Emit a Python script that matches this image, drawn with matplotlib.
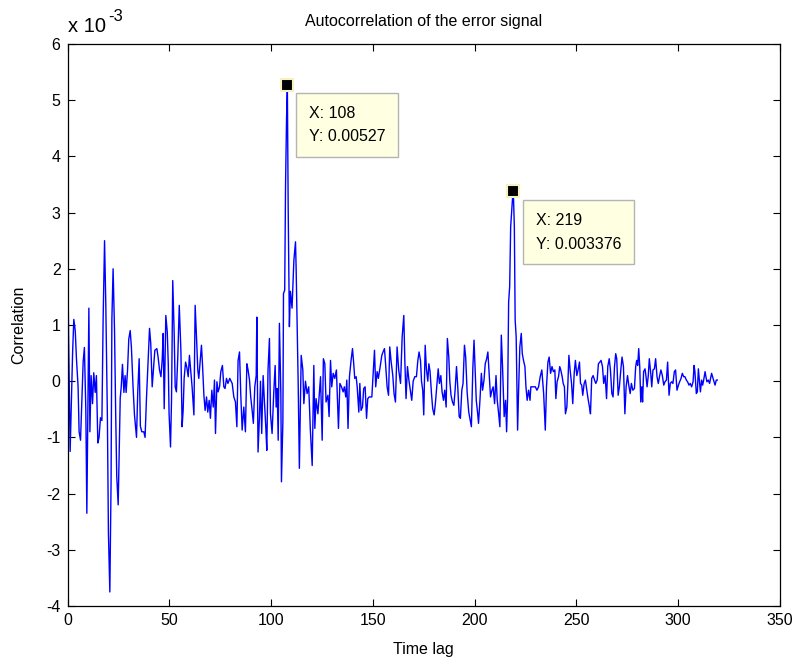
import numpy as np
import matplotlib
matplotlib.use("Agg")
import matplotlib.pyplot as plt

plt.rcParams['font.family'] = ['Liberation Sans', 'DejaVu Sans']
plt.rcParams['axes.unicode_minus'] = False

# Autocorrelation of the error signal.
# Values in units of 1e-3; lags are the time lags of the plotted vertices.
lag_a = [0.0, 0.5, 1.3, 2.5, 3.1, 3.8, 4.4, 5.2, 5.7, 6.4, 6.9, 7.7, 8.3, 9.0, 9.5,
         10.5, 11.0, 11.6, 12.3, 12.9, 13.6, 14.2, 14.9, 15.5, 16.2, 16.9, 17.5,
         18.2, 18.8, 19.6, 20.1, 20.8, 21.4, 21.8, 22.4, 23.1, 23.7, 24.2, 24.9,
         25.4, 25.9, 26.4, 27.0, 27.7, 28.3, 28.8, 29.5, 30.1, 30.8, 31.4, 32.2,
         32.9, 33.9, 34.5, 35.2, 35.8, 36.5, 37.5, 38.1, 38.8]
val_a = [2.95, 0.9, -1.25, 0.5, 1.1, 0.9, 0.4, -0.1, -0.9, -1.05, -0.5, 0.35, 0.6, -0.5, -2.35,
         1.3, -0.9, 0.1, -0.4, 0.15, -0.2, 0.1, -1.1, -1.0, -0.65, -0.7, 1.1,
         2.5, 1.4, -0.65, -2.7, -3.75, -1.8, 1.1, 2.0, 0.9, -0.65, -1.7, -2.2,
         -1.2, -0.3, -0.1, 0.3, -0.2, 0.1, -0.2, 0.2, 0.75, 0.9, 0.6, -0.1,
         -0.6, -1.0, -0.2, 0.4, -0.8, -0.9, -0.9, -1.0, -0.3]

lag_b = [40.3, 40.9, 41.6, 42.3, 42.9, 43.9, 44.5, 45.2, 45.9, 46.5, 47.0, 47.5, 48.3,
         49.0, 49.5, 49.9, 50.6, 51.1, 51.7, 52.4, 52.9, 53.5, 54.2, 54.9, 55.7,
         56.3, 56.8, 57.3, 58.0, 58.6, 59.3, 59.9, 60.6, 61.2, 62.1, 62.7, 63.4,
         64.0, 64.5, 65.2, 65.8, 66.3, 67.0, 67.6, 68.3, 68.9, 69.6, 70.2, 70.9,
         71.6, 72.2, 72.7, 73.4, 74.0, 74.7, 75.3, 76.1, 76.8, 77.4, 78.1, 78.8,
         79.7, 80.9]
val_b = [0.94, 0.67, -0.1, 0.25, 0.55, 0.58, 0.43, 0.2, 0.08, 0.37, 0.85, -0.49, 1.17,
         0.88, 0.31, -0.58, -1.17, -0.34, 1.79, 0.85, -0.1, -0.19, 0.46, 1.35, 0.55,
         -0.81, -0.52, 0.05, 0.34, 0.25, 0.08, 0.46, 0.17, -0.1, -0.6, 1.35, 0.76,
         0.2, 0.05, 0.37, 0.64, 0.31, -0.25, -0.52, -0.28, -0.55, -0.34, -0.66, -0.16,
         -0.46, 0.02, -0.93, -0.01, -0.19, -0.1, 0.17, 0.28, -0.1, -0.13, 0.05, -0.04,
         0.05, -0.04]

lag_c = [81.7, 82.5, 83.2, 83.8, 84.5, 85.1, 85.8, 86.6, 87.4, 88.1, 88.7, 89.4, 90.0,
         90.7, 91.3, 92.0, 92.7, 93.0, 93.6, 94.3, 94.8, 95.4, 96.1, 96.7, 97.4,
         97.9, 98.5, 99.2, 99.7, 100.5, 101.3, 102.0, 102.5, 103.0, 103.5, 104.1,
         104.8, 105.1, 105.8, 106.1, 106.7, 107.1, 107.6, 108.0, 108.4, 109.0,
         109.5, 110.3, 111.2, 112.0, 112.3, 113.3, 113.9, 114.8, 115.6, 116.1,
         116.9, 117.7, 118.5, 119.3, 120.2, 121.0]
val_c = [-0.28, -0.37, -0.81, 0.37, 0.52, -0.22, -0.87, -0.46, -0.9, 0.31, 0.2, 0.02, -0.28,
         -0.52, -0.75, -0.1, 0.1, 1.14, -1.26, -0.63, 0.0, -0.93, 0.1, -0.34, -0.81,
         -1.23, 0.2, 0.76, -0.58, -0.93, -0.22, 0.28, -0.46, -0.13, -1.05, 1.03,
         -0.22, -1.79, -0.72, 1.56, 1.62, 3.46, 4.67, 5.27, 3.1, 0.97,
         1.6, 1.3, 2.15, 2.48, 2.03, 0.0, -1.55, 0.46, 0.2, -0.4,
         0.0, -0.22, -0.1, -0.87, -1.5, 0.28]

lag_d = [121.5, 122.1, 123.0, 123.8, 124.3, 125.1, 125.7, 126.4, 127.0, 127.9, 128.5,
         129.2, 129.8, 130.5, 131.3, 132.1, 132.6, 133.1, 133.8, 134.6, 135.4, 136.0,
         136.7, 137.2, 137.8, 138.5, 139.3, 140.0, 140.6, 141.1, 141.8, 142.3, 143.1,
         143.6, 144.2, 144.9, 145.5, 146.2, 146.9, 147.5, 148.2, 148.8, 149.5, 150.1,
         150.8, 151.4, 152.1, 152.7, 153.6, 154.4, 155.0, 155.7, 156.3, 157.0, 157.7,
         158.3, 159.0, 159.8, 160.4]
val_d = [-0.84, -0.31, -0.58, -0.16, 0.08, -1.05, 0.4, 0.31, -0.37, -0.25, -0.63,
         0.37, -0.1, 0.14, 0.05, 0.2, -0.34, -0.84, -0.04, -0.1, -0.19, -0.1,
         -0.28, 0.02, -0.84, 0.08, 0.37, 0.58, 0.31, 0.05, 0.08, -0.1, -0.55,
         -0.04, -0.52, -0.46, -0.13, -0.1, -0.66, -0.31, -0.28, -0.28, -0.28, 0.1,
         0.55, -0.1, 0.17, 0.05, 0.26, 0.46, 0.52, 0.58, 0.28, -0.1, -0.25,
         0.61, 0.34, 0.1, -0.22]

lag_e = [161.1, 161.9, 162.7, 163.6, 164.4, 165.2, 165.7, 166.3, 167.0, 167.7, 168.3,
         169.1, 169.8, 170.6, 171.4, 172.1, 172.7, 173.4, 173.9, 174.5, 175.0, 175.7,
         176.3, 177.0, 177.5, 178.1, 178.8, 179.4, 180.1, 180.7, 181.4, 182.1, 182.7,
         183.4, 184.0, 184.7, 185.3, 186.0, 186.6, 187.3, 187.8, 188.4, 189.1, 189.8,
         190.4, 191.1, 191.7, 192.4, 193.0, 193.7, 194.3, 195.0, 195.6, 196.3, 197.1,
         197.8, 198.4, 199.1, 199.7]
val_e = [-0.37, 0.61, 0.2, -0.04, 0.79, 1.17, 0.37, -0.31, 0.26, 0.02, -0.13,
         -0.34, 0.0, 0.08, 0.08, 0.37, 0.52, 0.37, 0.0, -0.16, -0.6, 0.64,
         0.22, 0.0, 0.31, 0.17, -0.22, -0.49, -0.6, -0.4, -0.1, 0.22, -0.04,
         0.1, -0.19, -0.34, -0.16, -0.46, 0.76, 0.43, 0.0, -0.25, -0.37, -0.43,
         -0.16, 0.26, -0.1, -0.63, -0.66, -0.16, -0.04, 0.64, 0.43, -0.19, -0.55,
         -0.69, -0.81, 0.22, 0.73]

lag_f = [200.3, 200.8, 201.5, 201.9, 202.6, 203.3, 203.9, 204.6, 205.2, 205.9, 206.5,
         207.2, 207.8, 208.5, 209.1, 209.8, 210.5, 211.1, 211.8, 212.4, 213.1, 213.7,
         214.5, 215.2, 215.7, 216.2, 216.7, 217.2, 217.7, 218.2, 218.6, 219.0, 219.5,
         219.9, 220.4, 221.1, 221.6, 222.2, 222.9, 223.4, 224.0, 224.7, 225.2, 225.8,
         226.5, 227.2, 227.6, 228.3, 229.0, 229.8, 230.6, 231.4, 232.2, 233.0, 233.9,
         234.7, 235.3, 236.0, 236.6, 237.3, 238.0]
val_f = [0.14, -0.34, -0.58, -0.75, -0.34, 0.14, -0.16, 0.02, 0.31, 0.4, 0.52,
         0.08, -0.28, -0.16, -0.1, -0.4, 0.1, -0.34, -0.58, -0.81, 0.82, 0.26,
         -0.63, -0.34, -0.9, -0.28, 1.41, 1.68, 2.75, 3.04, 3.25, 3.376, 2.75,
         1.09, 0.79, -0.87, -0.16, 0.61, 0.85, 0.49, 0.37, 0.26, -0.1, -0.34,
         -0.16, -0.34, -0.1, -0.1, -0.1, -0.1, -0.16, -0.1, 0.08, 0.2, -0.22,
         -0.87, -0.1, 0.34, 0.43, 0.14, 0.26]

lag_g = [238.7, 239.4, 239.9, 240.5, 241.2, 241.8, 242.3, 243.0, 243.5, 244.1, 244.6,
         245.3, 245.8, 246.3, 246.9, 247.6, 248.2, 248.9, 249.5, 250.2, 250.8, 251.5,
         252.0, 252.6, 253.1, 253.8, 254.4, 255.1, 255.7, 256.4, 256.9, 257.5, 258.2,
         258.9, 259.5, 260.2, 260.8, 261.5, 262.1, 262.8, 263.4, 264.1, 264.8, 265.4,
         266.1, 266.7, 267.4, 268.0, 268.7, 269.3, 269.8, 270.5, 271.1, 271.8, 272.4,
         273.1, 273.8, 274.4, 275.1, 275.7, 276.4, 277.0, 277.7]
val_g = [0.17, 0.2, -0.31, -0.01, 0.08, 0.26, 0.2, 0.08, -0.04, -0.1, -0.58,
         -0.46, -0.04, 0.46, 0.2, -0.04, -0.4, 0.14, 0.37, 0.1, 0.2, 0.34,
         -0.04, -0.07, -0.25, -0.04, 0.02, -0.16, -0.31, -0.46, -0.58, 0.05, 0.1,
         0.02, -0.04, 0.02, 0.31, 0.34, 0.37, 0.26, -0.04, 0.1, -0.31, 0.26,
         0.4, 0.2, -0.22, -0.28, 0.26, 0.49, 0.4, -0.25, -0.1, 0.2, 0.43,
         0.26, -0.58, -0.1, 0.1, -0.07, -0.22, -0.04, -0.16]

lag_h = [278.5, 279.1, 279.6, 280.1, 280.6, 281.1, 281.6, 282.1, 282.5, 283.0, 283.7,
         284.2, 284.7, 285.3, 285.8, 286.5, 287.0, 287.6, 288.3, 288.9, 289.6, 290.2,
         290.9, 291.5, 292.2, 292.9, 293.5, 294.2, 294.8, 295.5, 296.1, 296.8, 297.4,
         298.1, 298.7, 299.4, 300.1, 300.7, 301.4, 302.0, 302.7, 303.3, 304.0, 304.6,
         305.3, 305.9, 306.6, 307.3, 307.8, 308.2, 308.9, 309.4, 309.9, 310.4, 310.9,
         311.5, 312.0, 312.5, 313.2, 313.6, 314.1, 314.8, 315.4, 315.9, 316.4, 317.1,
         317.6, 318.1, 318.7, 319.2]
val_h = [-0.13, 0.26, 0.37, 0.28, 0.58, 0.26, -0.37, -0.1, -0.37, 0.17, 0.22,
         0.08, -0.1, 0.1, 0.4, 0.14, -0.1, 0.2, 0.22, 0.4, 0.08, -0.04,
         0.1, 0.2, 0.1, -0.07, -0.01, 0.02, 0.34, -0.25, -0.04, -0.01, -0.04,
         0.17, 0.2, -0.16, -0.07, -0.01, 0.05, 0.14, 0.08, 0.08, 0.02, -0.01,
         -0.07, -0.04, -0.1, -0.01, 0.28, 0.17, -0.22, -0.19, 0.22, 0.02, -0.19,
         0.02, -0.07, 0.02, 0.17, 0.08, -0.01, 0.02, -0.04, 0.05, 0.14, 0.05,
         -0.01, -0.07, 0.02, 0.02]

lags = np.array(lag_a + lag_b + lag_c + lag_d + lag_e + lag_f + lag_g + lag_h)
corr_e3 = np.array(val_a + val_b + val_c + val_d + val_e + val_f + val_g + val_h)

tip_lags = [108, 219]
xticks = [0, 50, 100, 150, 200, 250, 300, 350]
yticks = [-4, -3, -2, -1, 0, 1, 2, 3, 4, 5, 6]

fig = plt.figure(figsize=(7.98, 6.64), dpi=100)
ax = fig.add_axes([67.5/798, 1-606/664, (780-67.5)/798, (606-44)/664])

ax.plot(lags, corr_e3, color=(0, 0, 1), lw=1.0)

ax.set_xlim(0, 350)
ax.set_ylim(-4, 6)
ax.set_xticks(xticks)
ax.set_yticks(yticks)
ax.tick_params(direction='in', length=5, width=0.8, top=True, right=True,
               labelsize=11.5, pad=5)
for s in ax.spines.values():
    s.set_linewidth(0.9)

ax.set_title('Autocorrelation of the error signal', fontsize=11.5, pad=13)
ax.set_xlabel('Time lag', fontsize=11.5, labelpad=10)
ax.set_ylabel('Correlation', fontsize=11.5, labelpad=14)

# exponent label (MATLAB style)
ax.annotate('x 10', xy=(0, 1), xycoords='axes fraction', xytext=(0.5, 6),
            textcoords='offset points', fontsize=14.5, ha='left', va='bottom')
ax.annotate('-3', xy=(0, 1), xycoords='axes fraction', xytext=(29, 14.5),
            textcoords='offset points', fontsize=12, ha='left', va='bottom')

for lag, dx, dy in zip(tip_lags, [15.7, 16.4], [-15.0, -15.7]):
    idx = int(np.argmin(np.abs(lags - lag)))
    yv = corr_e3[idx]
    ax.plot([lags[idx]], [yv], marker='s', markersize=9, color='black',
            markeredgecolor='#f7f0c0', markeredgewidth=1.5, zorder=5)
    label = f"X: {lag}\nY: {yv*1e-3:.4g}"
    ax.annotate(label, xy=(lags[idx], yv), xycoords='data',
                xytext=(dx, dy), textcoords='offset points',
                ha='left', va='top', fontsize=11.5, linespacing=1.7,
                bbox=dict(boxstyle='square,pad=0.8', fc='#ffffe1',
                          ec='#b4b4b4', lw=1.0),
                zorder=6)

fig.savefig('out.png', dpi=100)
